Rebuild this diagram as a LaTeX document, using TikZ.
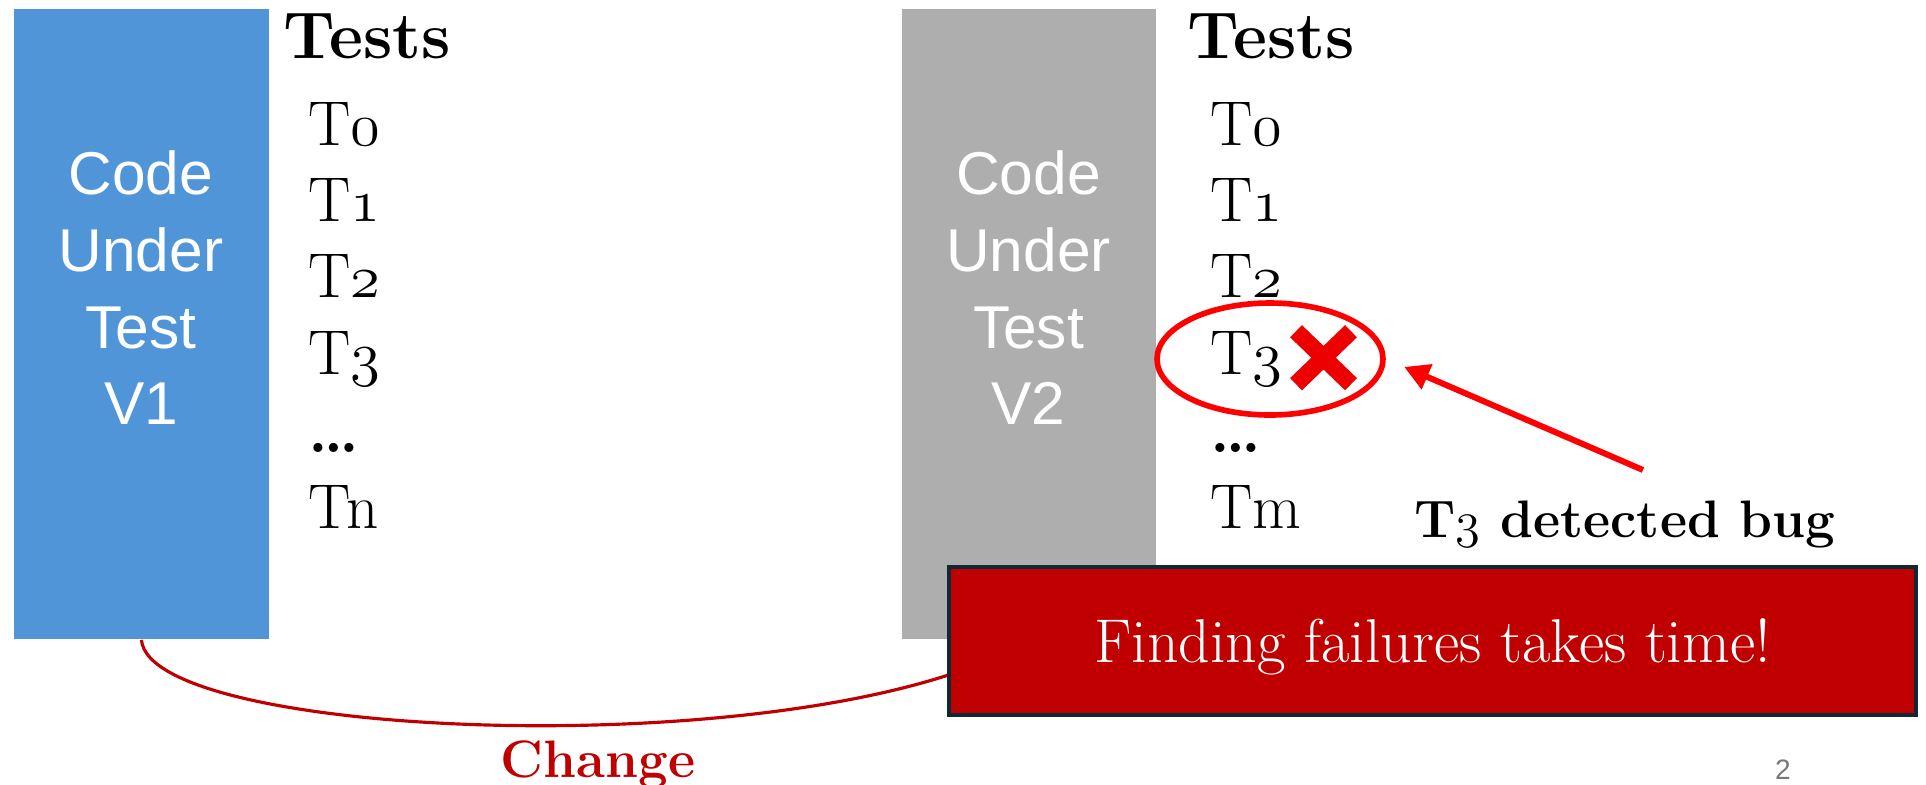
\documentclass[tikz,border=0pt]{standalone}
\usepackage{fontspec}
\setsansfont{Liberation Sans}
\usetikzlibrary{positioning,shapes.geometric,arrows.meta}
\definecolor{codeblue}{RGB}{80,149,216}
\definecolor{codegrey}{RGB}{174,174,174}
\definecolor{failred}{RGB}{192,0,0}
\definecolor{markred}{RGB}{236,0,0}
\definecolor{ringred}{RGB}{255,0,0}
\definecolor{boxnavy}{RGB}{14,40,54}
\definecolor{pagegrey}{RGB}{120,120,120}

% test names with old style digits
\newcommand{\tname}[1]{T\legacyoldstylenums{#1}}

\tikzset{
  cutbox/.style={anchor=north west, minimum width=2.545cm, minimum height=6.3cm, inner sep=0pt},
  cutlabel/.style={text=white, align=center, font=\sffamily\fontsize{17.2}{21.8}\selectfont},
  testhead/.style={anchor=base west, inner sep=0pt, font=\bfseries\fontsize{18.8}{22}\selectfont},
  testitem/.style={anchor=base west, inner sep=0pt, font=\fontsize{18}{21}\selectfont},
}

\begin{document}
\begin{tikzpicture}
	\useasboundingbox (0,0) rectangle (19.26,7.84);
	% Version 1 y sus tests
	\node[cutbox, fill=codeblue] (v1) at (0.135,7.755) {};
	\node[cutlabel] (v1label) at (1.41,4.96) {Code\\Under\\Test\\V1};
	\node[testhead] (v1tests) at (2.83,7.26) {Tests};
	\node[testitem] (v1t0) at (3.08,6.39) {\tname{0}};
	\node[testitem] (v1t1) at (3.08,5.63) {\tname{1}};
	\node[testitem] (v1t2) at (3.08,4.87) {\tname{2}};
	\node[testitem] (v1t3) at (3.08,4.10) {\tname{3}};
	\node[testitem] (v1dots) at (3.08,3.32) {\textbf{\ldots}};
	\node[testitem] (v1tn) at (3.08,2.56) {Tn};
	% Version 2 y sus tests
	\node[cutbox, fill=codegrey] (v2) at (9.01,7.755) {};
	\node[cutlabel] (v2label) at (10.285,4.96) {Code\\Under\\Test\\V2};
	\node[testhead] (v2tests) at (11.87,7.26) {Tests};
	\node[testitem] (v2t0) at (12.10,6.39) {\tname{0}};
	\node[testitem] (v2t1) at (12.10,5.63) {\tname{1}};
	\node[testitem] (v2t2) at (12.10,4.87) {\tname{2}};
	\node[testitem] (v2t3) at (12.10,4.10) {\tname{3}};
	\node[testitem] (v2dots) at (12.10,3.32) {\textbf{\ldots}};
	\node[testitem] (v2tm) at (12.10,2.56) {Tm};
	% T3 falla
	\draw[markred, line width=0.17cm] (13.235,4.263) +(-0.275,0.265) -- +(0.275,-0.265)
		+(-0.275,-0.265) -- +(0.275,0.265);
	\node[draw=ringred, line width=1.6pt, ellipse, inner sep=0pt,
		minimum width=2.26cm, minimum height=1.12cm] (t3ring) at (12.70,4.25) {};
	\node[anchor=base, inner sep=0pt, font=\bfseries\fontsize{15}{18}\selectfont] (bug) at (16.25,2.47) {T\legacyoldstylenums{3} detected bug};
	\coordinate (bugtail) at (16.43,3.14);
	\draw[ringred, line width=1.7pt, -{Triangle[length=0.25cm,width=0.26cm]}, shorten >=0.2cm] (bugtail) -- (t3ring.east);
	% cambio entre versiones
	\draw[failred, line width=0.9pt] (v1.south) .. controls (1.5,0.42) and (8.2,0.18) .. (v2.south);
	\node[anchor=base, text=failred, font=\bfseries\fontsize{15}{18}\selectfont] (change) at (5.98,0.07) {Change};
	\node[draw=boxnavy, line width=0.9pt, fill=failred, text=white, minimum width=9.67cm, minimum height=1.48cm,
		text depth=0pt, font=\fontsize{17.6}{20}\selectfont] (fail) at (14.325,1.43) {Finding failures takes time!};
	\node[text=pagegrey, font=\sffamily\fontsize{8}{10}\selectfont] (pagenum) at (17.83,0.14) {2};
\end{tikzpicture}
\end{document}
